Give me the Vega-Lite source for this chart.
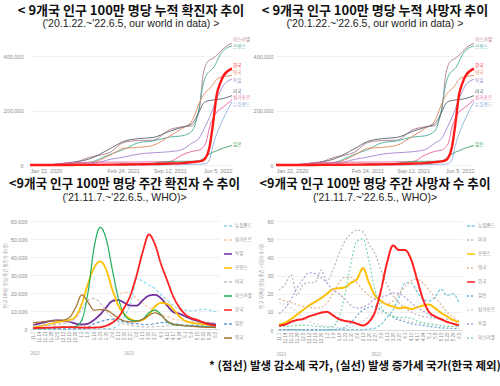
{
  "$schema": "https://vega.github.io/schema/vega-lite/v6.json",
  "background": "white",
  "padding": {"left": 2, "top": 4, "right": 2, "bottom": 2},
  "datasets": {
    "cum": [
      {"date": "2020-01-22", "이스라엘": 0, "프랑스": 0, "영국": 0, "독일": 0, "미국": 0, "싱가포르": 0, "뉴질랜드": 0, "일본": 0, "한국": 0},
      {"date": "2020-04-01", "이스라엘": 700, "프랑스": 900, "영국": 500, "독일": 900, "미국": 600, "싱가포르": 200, "뉴질랜드": 150, "일본": 20, "한국": 200},
      {"date": "2020-07-01", "이스라엘": 3000, "프랑스": 2600, "영국": 4600, "독일": 2400, "미국": 8000, "싱가포르": 7500, "뉴질랜드": 300, "일본": 150, "한국": 250},
      {"date": "2020-10-01", "이스라엘": 28000, "프랑스": 9000, "영국": 7000, "독일": 3500, "미국": 22000, "싱가포르": 10000, "뉴질랜드": 350, "일본": 650, "한국": 450},
      {"date": "2021-01-01", "이스라엘": 48000, "프랑스": 40000, "영국": 37000, "독일": 21000, "미국": 61000, "싱가포르": 10500, "뉴질랜드": 450, "일본": 1900, "한국": 1200},
      {"date": "2021-02-24", "이스라엘": 82000, "프랑스": 56000, "영국": 61000, "독일": 29000, "미국": 86000, "싱가포르": 10700, "뉴질랜드": 460, "일본": 3400, "한국": 1700},
      {"date": "2021-05-01", "이스라엘": 90000, "프랑스": 82000, "영국": 65000, "독일": 40000, "미국": 97000, "싱가포르": 11000, "뉴질랜드": 500, "일본": 4700, "한국": 2400},
      {"date": "2021-07-01", "이스라엘": 91000, "프랑스": 88000, "영국": 72000, "독일": 45000, "미국": 101000, "싱가포르": 11500, "뉴질랜드": 560, "일본": 6300, "한국": 3100},
      {"date": "2021-09-12", "이스라엘": 130000, "프랑스": 103000, "영국": 107000, "독일": 49000, "미국": 124000, "싱가포르": 13000, "뉴질랜드": 700, "일본": 13000, "한국": 5500},
      {"date": "2021-11-01", "이스라엘": 140000, "프랑스": 107000, "영국": 133000, "독일": 56000, "미국": 138000, "싱가포르": 36000, "뉴질랜드": 1000, "일본": 13600, "한국": 7000},
      {"date": "2021-12-15", "이스라엘": 144000, "프랑스": 124000, "영국": 162000, "독일": 80000, "미국": 152000, "싱가포르": 50000, "뉴질랜드": 2300, "일본": 13700, "한국": 10500},
      {"date": "2022-01-15", "이스라엘": 199000, "프랑스": 210000, "영국": 225000, "독일": 98000, "미국": 195000, "싱가포르": 55000, "뉴질랜드": 2900, "일본": 15000, "한국": 13500},
      {"date": "2022-02-01", "이스라엘": 330000, "프랑스": 295000, "영국": 255000, "독일": 125000, "미국": 225000, "싱가포르": 65000, "뉴질랜드": 3500, "일본": 23000, "한국": 17000},
      {"date": "2022-02-15", "이스라엘": 372000, "프랑스": 330000, "영국": 270000, "독일": 150000, "미국": 234000, "싱가포르": 85000, "뉴질랜드": 6000, "일본": 33000, "한국": 30000},
      {"date": "2022-03-01", "이스라엘": 386000, "프랑스": 345000, "영국": 280000, "독일": 175000, "미국": 237000, "싱가포르": 140000, "뉴질랜드": 20000, "일본": 40000, "한국": 67000},
      {"date": "2022-03-15", "이스라엘": 392000, "프랑스": 355000, "영국": 295000, "독일": 205000, "미국": 239000, "싱가포르": 170000, "뉴질랜드": 70000, "일본": 47000, "한국": 147000},
      {"date": "2022-04-01", "이스라엘": 404000, "프랑스": 380000, "영국": 315000, "독일": 245000, "미국": 241000, "싱가포르": 195000, "뉴질랜드": 115000, "일본": 52000, "한국": 260000},
      {"date": "2022-04-15", "이스라엘": 415000, "프랑스": 405000, "영국": 322000, "독일": 270000, "미국": 242000, "싱가포르": 205000, "뉴질랜드": 145000, "일본": 58000, "한국": 300000},
      {"date": "2022-05-01", "이스라엘": 430000, "프랑스": 422000, "영국": 325000, "독일": 295000, "미국": 245000, "싱가포르": 215000, "뉴질랜드": 175000, "일본": 63000, "한국": 330000},
      {"date": "2022-06-05", "이스라엘": 447000, "프랑스": 438000, "영국": 330000, "독일": 315000, "미국": 255000, "싱가포르": 240000, "뉴질랜드": 232000, "일본": 72000, "한국": 354000}
    ],
    "cumLab": [
      {"country": "이스라엘", "date": "2022-06-05", "v": 458000},
      {"country": "프랑스", "date": "2022-06-05", "v": 434000},
      {"country": "한국", "date": "2022-06-05", "v": 363000},
      {"country": "영국", "date": "2022-06-05", "v": 338000},
      {"country": "독일", "date": "2022-06-05", "v": 310000},
      {"country": "미국", "date": "2022-06-05", "v": 270000},
      {"country": "싱가포르", "date": "2022-06-05", "v": 246000},
      {"country": "뉴질랜드", "date": "2022-06-05", "v": 222000},
      {"country": "일본", "date": "2022-06-05", "v": 74000}
    ],
    "wc": [
      {"d": "11.7", "뉴질랜드": 100, "싱가포르": 3500, "독일": 2000, "프랑스": 1000, "미국": 1800, "이스라엘": 500, "일본": 50, "영국": 3500, "한국": 500},
      {"d": "11.14", "뉴질랜드": 100, "싱가포르": 3000, "독일": 3000, "프랑스": 1500, "미국": 2000, "이스라엘": 500, "일본": 50, "영국": 3800, "한국": 600},
      {"d": "11.21", "뉴질랜드": 100, "싱가포르": 2500, "독일": 3800, "프랑스": 2200, "미국": 2200, "이스라엘": 600, "일본": 50, "영국": 4200, "한국": 700},
      {"d": "11.28", "뉴질랜드": 100, "싱가포르": 2000, "독일": 4500, "프랑스": 3000, "미국": 2500, "이스라엘": 700, "일본": 50, "영국": 4500, "한국": 800},
      {"d": "12.5", "뉴질랜드": 100, "싱가포르": 1500, "독일": 4800, "프랑스": 3800, "미국": 2800, "이스라엘": 800, "일본": 50, "영국": 4800, "한국": 900},
      {"d": "12.12", "뉴질랜드": 100, "싱가포르": 1000, "독일": 4500, "프랑스": 4500, "미국": 3200, "이스라엘": 900, "일본": 50, "영국": 5000, "한국": 1000},
      {"d": "12.19", "뉴질랜드": 100, "싱가포르": 800, "독일": 4000, "프랑스": 5000, "미국": 4000, "이스라엘": 1000, "일본": 60, "영국": 6500, "한국": 1000},
      {"d": "12.26", "뉴질랜드": 100, "싱가포르": 700, "독일": 3000, "프랑스": 7000, "미국": 6000, "이스라엘": 1500, "일본": 100, "영국": 12000, "한국": 900},
      {"d": "1.2", "뉴질랜드": 100, "싱가포르": 1000, "독일": 2500, "프랑스": 14000, "미국": 11000, "이스라엘": 5000, "일본": 300, "영국": 19000, "한국": 800},
      {"d": "1.9", "뉴질랜드": 100, "싱가포르": 2500, "독일": 3000, "프랑스": 25000, "미국": 16000, "이스라엘": 20000, "일본": 1000, "영국": 15000, "한국": 700},
      {"d": "1.16", "뉴질랜드": 100, "싱가포르": 5000, "독일": 5000, "프랑스": 34000, "미국": 17000, "이스라엘": 45000, "일본": 3000, "영국": 10500, "한국": 800},
      {"d": "1.23", "뉴질랜드": 150, "싱가포르": 8000, "독일": 8000, "프랑스": 37500, "미국": 14500, "이스라엘": 56500, "일본": 4000, "영국": 10800, "한국": 1000},
      {"d": "1.30", "뉴질랜드": 200, "싱가포르": 12000, "독일": 12000, "프랑스": 33000, "미국": 10000, "이스라엘": 50000, "일본": 5000, "영국": 10500, "한국": 1800},
      {"d": "2.6", "뉴질랜드": 500, "싱가포르": 16000, "독일": 15500, "프랑스": 22000, "미국": 6500, "이스라엘": 33000, "일본": 5500, "영국": 8500, "한국": 3500},
      {"d": "2.13", "뉴질랜드": 2000, "싱가포르": 18500, "독일": 16000, "프랑스": 13000, "미국": 4000, "이스라엘": 17000, "일본": 5000, "영국": 6000, "한국": 6500},
      {"d": "2.20", "뉴질랜드": 7000, "싱가포르": 20500, "독일": 14500, "프랑스": 8000, "미국": 2800, "이스라엘": 8000, "일본": 4000, "영국": 4500, "한국": 12000},
      {"d": "2.27", "뉴질랜드": 14000, "싱가포르": 19500, "독일": 13000, "프랑스": 5500, "미국": 2000, "이스라엘": 5000, "일본": 3000, "영국": 4000, "한국": 19000},
      {"d": "3.6", "뉴질랜드": 28000, "싱가포르": 17000, "독일": 13000, "프랑스": 4500, "미국": 1500, "이스라엘": 4500, "일본": 3000, "영국": 4200, "한국": 30000},
      {"d": "3.13", "뉴질랜드": 26500, "싱가포르": 14000, "독일": 16000, "프랑스": 5000, "미국": 1200, "이스라엘": 5500, "일본": 2500, "영국": 5500, "한국": 43000},
      {"d": "3.20", "뉴질랜드": 24500, "싱가포르": 12000, "독일": 18500, "프랑스": 8000, "미국": 1200, "이스라엘": 9000, "일본": 2500, "영국": 7500, "한국": 52500},
      {"d": "3.27", "뉴질랜드": 22500, "싱가포르": 10000, "독일": 19000, "프랑스": 12500, "미국": 1300, "이스라엘": 10500, "일본": 3000, "영국": 9000, "한국": 47000},
      {"d": "4.3", "뉴질랜드": 19000, "싱가포르": 8000, "독일": 17000, "프랑스": 14500, "미국": 1500, "이스라엘": 8000, "일본": 3500, "영국": 7500, "한국": 36000},
      {"d": "4.10", "뉴질랜드": 16000, "싱가포르": 7000, "독일": 13000, "프랑스": 14000, "미국": 1800, "이스라엘": 4000, "일본": 3500, "영국": 4500, "한국": 27000},
      {"d": "4.17", "뉴질랜드": 13000, "싱가포르": 5500, "독일": 9500, "프랑스": 11000, "미국": 2000, "이스라엘": 2500, "일본": 3000, "영국": 2800, "한국": 18000},
      {"d": "4.24", "뉴질랜드": 11000, "싱가포르": 5000, "독일": 8500, "프랑스": 7000, "미국": 2200, "이스라엘": 2000, "일본": 2500, "영국": 2200, "한국": 12000},
      {"d": "5.1", "뉴질랜드": 10500, "싱가포르": 4500, "독일": 7000, "프랑스": 4500, "미국": 2200, "이스라엘": 1800, "일본": 2000, "영국": 1800, "한국": 8000},
      {"d": "5.8", "뉴질랜드": 10000, "싱가포르": 4000, "독일": 5500, "프랑스": 3500, "미국": 2200, "이스라엘": 1500, "일본": 2000, "영국": 1500, "한국": 6000},
      {"d": "5.15", "뉴질랜드": 10500, "싱가포르": 4000, "독일": 4500, "프랑스": 3000, "미국": 2000, "이스라엘": 1500, "일본": 1800, "영국": 1200, "한국": 5000},
      {"d": "5.22", "뉴질랜드": 11000, "싱가포르": 4000, "독일": 3500, "프랑스": 2500, "미국": 1800, "이스라엘": 1200, "일본": 1500, "영국": 1000, "한국": 3500},
      {"d": "5.29", "뉴질랜드": 10500, "싱가포르": 3800, "독일": 3000, "프랑스": 2000, "미국": 1700, "이스라엘": 1200, "일본": 1200, "영국": 900, "한국": 2500},
      {"d": "6.5", "뉴질랜드": 9500, "싱가포르": 3500, "독일": 2500, "프랑스": 1500, "미국": 1600, "이스라엘": 1000, "일본": 1000, "영국": 800, "한국": 1800}
    ],
    "wd": [
      {"d": "11.7", "뉴질랜드": 0.2, "미국": 22, "프랑스": 3, "영국": 17, "일본": 0.2, "싱가포르": 15, "독일": 9, "이스라엘": 2, "한국": 2.4},
      {"d": "11.14", "뉴질랜드": 0.2, "미국": 25, "프랑스": 4, "영국": 16, "일본": 0.2, "싱가포르": 14, "독일": 12, "이스라엘": 2, "한국": 3},
      {"d": "11.21", "뉴질랜드": 0.2, "미국": 30.5, "프랑스": 6, "영국": 15, "일본": 0.2, "싱가포르": 12, "독일": 17, "이스라엘": 2.2, "한국": 4.5},
      {"d": "11.28", "뉴질랜드": 0.2, "미국": 19, "프랑스": 8.5, "영국": 14, "일본": 0.1, "싱가포르": 10, "독일": 23, "이스라엘": 2.5, "한국": 5.5},
      {"d": "12.5", "뉴질랜드": 0.2, "미국": 25, "프랑스": 11, "영국": 13, "일본": 0.1, "싱가포르": 7, "독일": 28, "이스라엘": 2.5, "한국": 6},
      {"d": "12.12", "뉴질랜드": 0.2, "미국": 26, "프랑스": 13.5, "영국": 12.5, "일본": 0.1, "싱가포르": 5, "독일": 31.5, "이스라엘": 2.5, "한국": 7.5},
      {"d": "12.19", "뉴질랜드": 0.2, "미국": 26, "프랑스": 15.5, "영국": 12, "일본": 0.1, "싱가포르": 3.5, "독일": 31, "이스라엘": 2, "한국": 8.5},
      {"d": "12.26", "뉴질랜드": 0.2, "미국": 33, "프랑스": 17.5, "영국": 12.5, "일본": 0.1, "싱가포르": 2.5, "독일": 29, "이스라엘": 1.8, "한국": 9.5},
      {"d": "1.2", "뉴질랜드": 0.2, "미국": 27, "프랑스": 20, "영국": 15, "일본": 0.1, "싱가포르": 2, "독일": 26, "이스라엘": 1.5, "한국": 10},
      {"d": "1.9", "뉴질랜드": 0.2, "미국": 33, "프랑스": 22.5, "영국": 20, "일본": 0.2, "싱가포르": 1.5, "독일": 22, "이스라엘": 2, "한국": 8},
      {"d": "1.16", "뉴질랜드": 0.2, "미국": 42, "프랑스": 23, "영국": 26, "일본": 0.5, "싱가포르": 1.2, "독일": 20, "이스라엘": 7, "한국": 6},
      {"d": "1.23", "뉴질랜드": 0.2, "미국": 49, "프랑스": 23.5, "영국": 29, "일본": 1.5, "싱가포르": 1, "독일": 17, "이스라엘": 20, "한국": 5},
      {"d": "1.30", "뉴질랜드": 0.2, "미국": 53, "프랑스": 26, "영국": 29, "일본": 4, "싱가포르": 1.5, "독일": 13.5, "이스라엘": 37, "한국": 4.5},
      {"d": "2.6", "뉴질랜드": 0.2, "미국": 55, "프랑스": 28, "영국": 26, "일본": 8, "싱가포르": 3, "독일": 12, "이스라엘": 49, "한국": 3.5},
      {"d": "2.13", "뉴질랜드": 0.3, "미국": 54, "프랑스": 34, "영국": 22, "일본": 11, "싱가포르": 5, "독일": 12.5, "이스라엘": 50, "한국": 2.5},
      {"d": "2.20", "뉴질랜드": 0.5, "미국": 47, "프랑스": 26, "영국": 19, "일본": 12.5, "싱가포르": 7, "독일": 14.5, "이스라엘": 38, "한국": 4.5},
      {"d": "2.27", "뉴질랜드": 1, "미국": 42, "프랑스": 19, "영국": 17, "일본": 13, "싱가포르": 8.5, "독일": 17, "이스라엘": 22, "한국": 10},
      {"d": "3.6", "뉴질랜드": 3, "미국": 33, "프랑스": 16, "영국": 15, "일본": 11, "싱가포르": 9.5, "독일": 18, "이스라엘": 13, "한국": 22},
      {"d": "3.13", "뉴질랜드": 7, "미국": 25, "프랑스": 14, "영국": 14.5, "일본": 9, "싱가포르": 9, "독일": 19, "이스라엘": 9, "한국": 37},
      {"d": "3.20", "뉴질랜드": 11, "미국": 19, "프랑스": 13, "영국": 16, "일본": 7, "싱가포르": 8, "독일": 20.5, "이스라엘": 7.5, "한국": 46.5},
      {"d": "3.27", "뉴질랜드": 18, "미국": 15, "프랑스": 12, "영국": 20, "일본": 5.5, "싱가포르": 6.5, "독일": 20, "이스라엘": 7, "한국": 44},
      {"d": "4.3", "뉴질랜드": 26, "미국": 12, "프랑스": 12.5, "영국": 24, "일본": 4.5, "싱가포르": 5.5, "독일": 18, "이스라엘": 7, "한국": 44},
      {"d": "4.10", "뉴질랜드": 26, "미국": 10, "프랑스": 11.5, "영국": 27, "일본": 3.5, "싱가포르": 4.5, "독일": 15, "이스라엘": 6.5, "한국": 39},
      {"d": "4.17", "뉴질랜드": 21, "미국": 8.5, "프랑스": 12.5, "영국": 28, "일본": 3, "싱가포르": 4, "독일": 12.5, "이스라엘": 5, "한국": 28},
      {"d": "4.24", "뉴질랜드": 17, "미국": 7.5, "프랑스": 13.5, "영국": 26, "일본": 2.5, "싱가포르": 3.5, "독일": 10.5, "이스라엘": 4, "한국": 17},
      {"d": "5.1", "뉴질랜드": 16, "미국": 7, "프랑스": 14, "영국": 22, "일본": 2, "싱가포르": 3, "독일": 8.5, "이스라엘": 3.5, "한국": 10},
      {"d": "5.8", "뉴질랜드": 18, "미국": 6.5, "프랑스": 12, "영국": 18, "일본": 1.5, "싱가포르": 2.5, "독일": 7, "이스라엘": 3, "한국": 7.5},
      {"d": "5.15", "뉴질랜드": 22.5, "미국": 6, "프랑스": 9.5, "영국": 14, "일본": 1.2, "싱가포르": 2.2, "독일": 5.5, "이스라엘": 2.5, "한국": 6},
      {"d": "5.22", "뉴질랜드": 19, "미국": 6, "프랑스": 7.5, "영국": 10, "일본": 1, "싱가포르": 2, "독일": 4.5, "이스라엘": 2, "한국": 4.5},
      {"d": "5.29", "뉴질랜드": 20, "미국": 5.5, "프랑스": 5.5, "영국": 7, "일본": 0.8, "싱가포르": 2, "독일": 3.5, "이스라엘": 2, "한국": 3.5},
      {"d": "6.5", "뉴질랜드": 15, "미국": 5, "프랑스": 4.5, "영국": 5, "일본": 0.7, "싱가포르": 1.8, "독일": 3, "이스라엘": 1.8, "한국": 2.5}
    ]
  },
  "title": {"text": "* (점선) 발생 감소세 국가, (실선) 발생 증가세 국가(한국 제외)", "orient": "bottom", "anchor": "start", "dx": 179, "fontSize": 11.5, "fontWeight": "bold", "font": "Noto Sans CJK KR", "color": "#111", "offset": 5},
  "spacing": 3,
  "resolve": {"scale": {"color": "independent", "strokeDash": "independent"}, "legend": {"color": "independent", "strokeDash": "independent"}},
  "vconcat": [
    {
      "hconcat": [
        {
          "width": 202, "height": 136,
          "title": {"text": "< 9개국 인구 100만 명당 누적 확진자 추이", "subtitle": "('20.1.22.~'22.6.5, our world in data)  >", "offset": 0},
          "layer": [
            {
              "data": {"name": "cum"},
              "transform": [{"fold": ["이스라엘", "프랑스", "영국", "독일", "미국", "싱가포르", "뉴질랜드", "일본", "한국"], "as": ["country", "value"]}],
              "mark": {"type": "line", "interpolate": "monotone"},
              "encoding": {
                "x": {"field": "date", "type": "temporal", "axis": {"values": [{"year": 2020, "month": 1, "date": 22}, {"year": 2021, "month": 2, "date": 24}, {"year": 2021, "month": 9, "date": 12}, {"year": 2022, "month": 6, "date": 5}], "format": "%b %-d, %Y", "grid": false, "labelFlush": true, "labelPadding": 3}},
                "y": {"field": "value", "type": "quantitative", "scale": {"domain": [0, 470000]}, "axis": {"values": [0, 100000, 200000, 300000, 400000], "labelExpr": "format(datum.value, ',')", "labelPadding": 7}},
                "color": {"field": "country", "type": "nominal", "scale": {"domain": ["이스라엘", "프랑스", "한국", "영국", "독일", "미국", "싱가포르", "뉴질랜드", "일본"], "range": ["#b27d86", "#45ad9a", "#ff1a1a", "#e3875c", "#a685cf", "#59606e", "#e8609e", "#8fb0e0", "#3f9e6a"]}, "legend": null},
                "strokeWidth": {"condition": {"test": "datum.country === '한국'", "value": 2.4}, "value": 0.9}
              }
            },
            {
              "data": {"name": "cumLab"},
              "mark": {"type": "text", "align": "left", "baseline": "middle", "dx": 1, "fontSize": 4.6},
              "encoding": {
                "x": {"field": "date", "type": "temporal"},
                "y": {"field": "v", "type": "quantitative"},
                "text": {"field": "country"},
                "color": {"field": "country", "type": "nominal", "legend": null}
              }
            }
          ]
        },
        {
          "width": 198, "height": 136,
          "title": {"text": "< 9개국 인구 100만 명당 누적 사망자 추이", "subtitle": "('20.1.22.~'22.6.5, our world in data) >", "offset": 0},
          "layer": [
            {
              "data": {"name": "cum"},
              "transform": [{"fold": ["이스라엘", "프랑스", "영국", "독일", "미국", "싱가포르", "뉴질랜드", "일본", "한국"], "as": ["country", "value"]}],
              "mark": {"type": "line", "interpolate": "monotone"},
              "encoding": {
                "x": {"field": "date", "type": "temporal", "axis": {"values": [{"year": 2020, "month": 1, "date": 22}, {"year": 2021, "month": 2, "date": 24}, {"year": 2021, "month": 9, "date": 12}, {"year": 2022, "month": 6, "date": 5}], "format": "%b %-d, %Y", "grid": false, "labelFlush": true, "labelPadding": 3}},
                "y": {"field": "value", "type": "quantitative", "scale": {"domain": [0, 470000]}, "axis": {"values": [0, 100000, 200000, 300000, 400000], "labelExpr": "format(datum.value, ',')"}},
                "color": {"field": "country", "type": "nominal", "scale": {"domain": ["이스라엘", "프랑스", "한국", "영국", "독일", "미국", "싱가포르", "뉴질랜드", "일본"], "range": ["#b27d86", "#45ad9a", "#ff1a1a", "#e3875c", "#a685cf", "#59606e", "#e8609e", "#8fb0e0", "#3f9e6a"]}, "legend": null},
                "strokeWidth": {"condition": {"test": "datum.country === '한국'", "value": 2.4}, "value": 0.9}
              }
            },
            {
              "data": {"name": "cumLab"},
              "mark": {"type": "text", "align": "left", "baseline": "middle", "dx": 1, "fontSize": 4.6},
              "encoding": {
                "x": {"field": "date", "type": "temporal"},
                "y": {"field": "v", "type": "quantitative"},
                "text": {"field": "country"},
                "color": {"field": "country", "type": "nominal", "legend": null}
              }
            }
          ]
        }
      ],
      "spacing": 3,
      "resolve": {"scale": {"color": "independent"}}
    },
    {
      "hconcat": [
        {
          "width": 189, "height": 108,
          "title": {"text": "<9개국 인구 100만 명당 주간 확진자 수 추이", "subtitle": "('21.11.7.~'22.6.5., WHO)>", "offset": 16, "fontSize": 12.6, "subtitlePadding": 2},
          "data": {"name": "wc"},
          "transform": [{"fold": ["뉴질랜드", "싱가포르", "독일", "프랑스", "미국", "이스라엘", "일본", "영국", "한국"], "as": ["country", "value"]}],
          "mark": {"type": "line", "interpolate": "monotone"},
          "encoding": {
            "x": {"field": "d", "type": "ordinal", "sort": null, "scale": {"padding": 0.5}, "axis": {"title": "\u00a0\u00a0\u00a0\u00a0\u00a0\u00a0\u00a0\u00a0\u00a0\u00a0\u00a0\u00a0\u00a0\u00a0\u00a02021\u00a0\u00a0\u00a0\u00a0\u00a0\u00a0\u00a0\u00a0\u00a0\u00a0\u00a0\u00a0\u00a0\u00a0\u00a0\u00a0\u00a0\u00a0\u00a0\u00a0\u00a0\u00a0\u00a0\u00a0\u00a0\u00a0\u00a0\u00a0\u00a0\u00a0\u00a0\u00a0\u00a0\u00a0\u00a0\u00a0\u00a0\u00a0\u00a0\u00a0\u00a0\u00a0\u00a0\u00a0\u00a0\u00a0\u00a0\u00a0\u00a0\u00a0\u00a0\u00a0\u00a0\u00a0\u00a0\u00a0\u00a0\u00a0\u00a0\u00a0\u00a0\u00a0\u00a0\u00a0\u00a0\u00a0\u00a0\u00a0\u00a0\u00a0\u00a0\u00a0\u00a0\u00a0\u00a0\u00a0\u00a0\u00a0\u00a0\u00a0\u00a0\u00a0\u00a02022", "titleAnchor": "start", "titlePadding": 8}},
            "y": {"field": "value", "type": "quantitative", "scale": {"domain": [0, 60000]}, "axis": {"values": [0, 10000, 20000, 30000, 40000, 50000, 60000], "labelExpr": "format(datum.value, ',')", "title": "인구 100만 명당 주간 확진자 수(명)"}},
            "color": {"field": "country", "type": "nominal", "scale": {"domain": ["뉴질랜드", "싱가포르", "독일", "프랑스", "미국", "이스라엘", "한국", "일본", "영국"], "range": ["#8fd6f0", "#f9c9a3", "#7030a0", "#ffc000", "#c4c4c4", "#1fae5a", "#ff2020", "#5b9bd5", "#a5712f"]}, "legend": {"title": null}},
            "strokeDash": {"field": "country", "type": "nominal", "scale": {"domain": ["뉴질랜드", "싱가포르", "독일", "프랑스", "미국", "이스라엘", "한국", "일본", "영국"], "range": [[3, 2], [3, 2], [1, 0], [1, 0], [3, 2], [1, 0], [1, 0], [3, 2], [1, 0]]}, "legend": {"title": null}},
            "strokeWidth": {"condition": {"test": "indexof(['한국','독일','프랑스'], datum.country) >= 0", "value": 1.8}, "value": 1.2}
          }
        },
        {
          "width": 186, "height": 109,
          "title": {"text": "<9개국 인구 100만 명당 주간 사망자 수 추이", "subtitle": "('21.11.7.~'22.6.5., WHO)>", "offset": 16, "fontSize": 12.6, "dx": 6, "subtitlePadding": 2},
          "data": {"name": "wd"},
          "transform": [{"fold": ["뉴질랜드", "미국", "프랑스", "영국", "일본", "싱가포르", "독일", "이스라엘", "한국"], "as": ["country", "value"]}],
          "mark": {"type": "line", "interpolate": "monotone"},
          "encoding": {
            "x": {"field": "d", "type": "ordinal", "sort": null, "scale": {"padding": 0.5}, "axis": {"title": "\u00a0\u00a0\u00a0\u00a0\u00a0\u00a0\u00a0\u00a0\u00a0\u00a0\u00a0\u00a0\u00a0\u00a0\u00a02021\u00a0\u00a0\u00a0\u00a0\u00a0\u00a0\u00a0\u00a0\u00a0\u00a0\u00a0\u00a0\u00a0\u00a0\u00a0\u00a0\u00a0\u00a0\u00a0\u00a0\u00a0\u00a0\u00a0\u00a0\u00a0\u00a0\u00a0\u00a0\u00a0\u00a0\u00a0\u00a0\u00a0\u00a0\u00a0\u00a0\u00a0\u00a0\u00a0\u00a0\u00a0\u00a0\u00a0\u00a0\u00a0\u00a0\u00a0\u00a0\u00a0\u00a0\u00a0\u00a0\u00a0\u00a0\u00a0\u00a0\u00a0\u00a0\u00a0\u00a0\u00a0\u00a0\u00a0\u00a0\u00a0\u00a0\u00a0\u00a0\u00a0\u00a0\u00a0\u00a0\u00a0\u00a0\u00a0\u00a0\u00a0\u00a0\u00a0\u00a0\u00a0\u00a0\u00a0\u00a02022", "titleAnchor": "start", "titlePadding": 8}},
            "y": {"field": "value", "type": "quantitative", "scale": {"domain": [0, 60]}, "axis": {"values": [0, 10, 20, 30, 40, 50, 60], "labelExpr": "format(datum.value, 'd')", "title": "인구 100만 명당 주간 사망자 수(명)"}},
            "color": {"field": "country", "type": "nominal", "scale": {"domain": ["뉴질랜드", "미국", "프랑스", "영국", "한국", "일본", "싱가포르", "독일", "이스라엘"], "range": ["#79c7de", "#bdb3c0", "#ffc000", "#e2b38f", "#ff2020", "#6aa5d8", "#d4d4d4", "#b79bd6", "#7fd9a8"]}, "legend": {"title": null}},
            "strokeDash": {"field": "country", "type": "nominal", "scale": {"domain": ["뉴질랜드", "미국", "프랑스", "영국", "한국", "일본", "싱가포르", "독일", "이스라엘"], "range": [[3, 1.5], [2, 2], [1, 0], [2, 2], [1, 0], [2, 2], [2, 2], [2, 2], [2, 2]]}, "legend": {"title": null}},
            "strokeWidth": {"condition": {"test": "indexof(['한국','프랑스'], datum.country) >= 0", "value": 2}, "value": 1.2}
          }
        }
      ],
      "spacing": 57,
      "bounds": "flush",
      "resolve": {"scale": {"color": "independent", "strokeDash": "independent"}, "legend": {"color": "independent", "strokeDash": "independent"}}
    }
  ],
  "config": {
    "font": "Noto Sans CJK KR",
    "view": {"stroke": null},
    "axis": {"labelFont": "Liberation Sans", "labelColor": "#8c8c8c", "labelFontSize": 5.5, "gridColor": "#ebebeb", "gridWidth": 0.7, "domain": false, "ticks": false, "labelPadding": 3, "titleFont": "Noto Sans CJK KR", "titleFontSize": 4.5, "titleFontWeight": "normal", "titleColor": "#999", "titlePadding": 3},
    "axisX": {"labelAngle": 0},
    "axisY": {"title": null},
    "axisDiscrete": {"labelAngle": -90, "labelFontSize": 4.5, "domain": true, "domainColor": "#d9d9d9", "grid": false, "labelPadding": 2},
    "axisQuantitative": {"title": null},
    "axisTemporal": {"title": null},
    "legend": {"orient": "right", "offset": 3, "symbolType": "stroke", "symbolSize": 64, "symbolStrokeWidth": 1.5, "labelFontSize": 4.5, "labelColor": "#888", "labelFont": "Noto Sans CJK KR", "rowPadding": 6, "labelOffset": 2, "padding": 0},
    "title": {"font": "Noto Sans CJK KR", "fontSize": 13, "fontWeight": "bold", "color": "#111", "subtitleFont": "Liberation Sans", "subtitleFontSize": 10.5, "subtitleColor": "#222", "anchor": "middle", "subtitlePadding": 1, "frame": "group"}
  }
}
